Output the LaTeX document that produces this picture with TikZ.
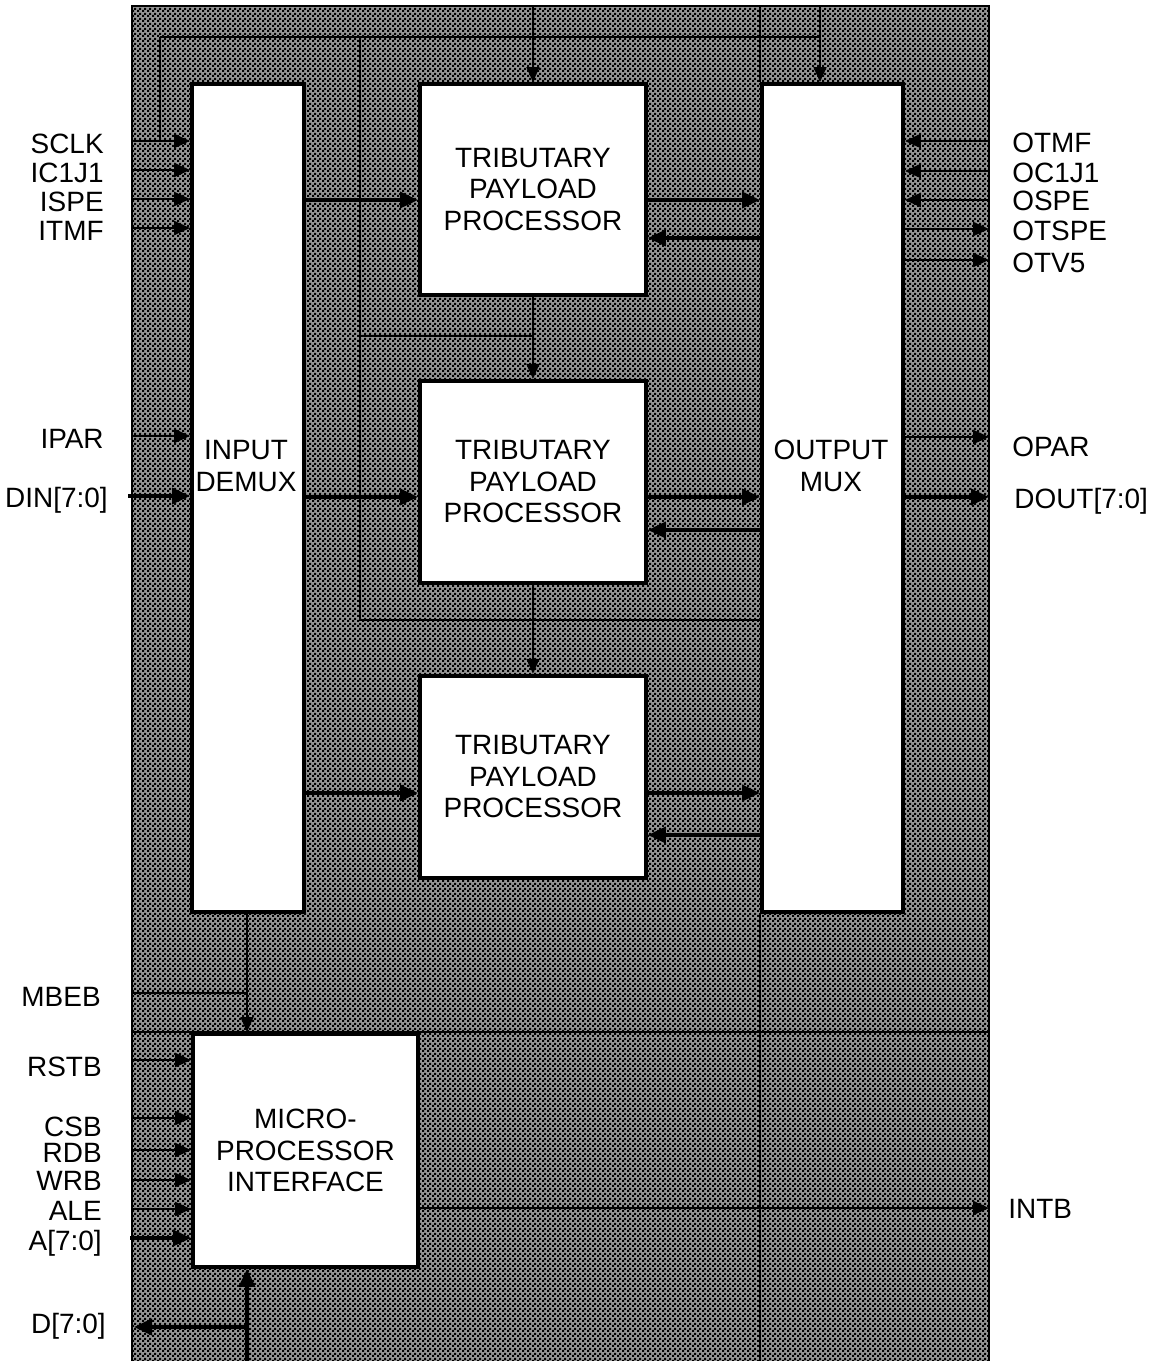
\documentclass[tikz,border=0pt]{standalone}
\usepackage{fontspec}
\setmainfont{Liberation Sans}
\usepackage{tikz}
\usetikzlibrary{arrows.meta,positioning,patterns}
\pgfdeclarepatternformonly{dither}{\pgfqpoint{0pt}{0pt}}{\pgfqpoint{2.6pt}{2.6pt}}{\pgfqpoint{2.6pt}{2.6pt}}{%
  \pgfpathrectangle{\pgfqpoint{0pt}{0pt}}{\pgfqpoint{1.3pt}{1.3pt}}%
  \pgfpathrectangle{\pgfqpoint{1.3pt}{1.3pt}}{\pgfqpoint{1.3pt}{1.3pt}}%
  \pgfusepath{fill}}

\begin{document}
\begin{tikzpicture}[
  x=0.2mm, y=-0.2mm,
  font=\fontsize{15.9}{17.9}\selectfont,
  blk/.style={draw,line width=2.2pt,fill=white,align=center,inner sep=0pt},
  txt/.style={align=center,inner sep=0pt},
  pinl/.style={anchor=east,inner sep=0pt,text height=11.4pt,text depth=0pt},
  pinr/.style={anchor=west,inner sep=0pt,text height=11.4pt,text depth=0pt},
  bus/.style={line width=2pt,-{Triangle[length=3.6mm,width=3.2mm]}},
  sig/.style={line width=1.3pt,-{Triangle[length=3.2mm,width=2.8mm]}},
  ctl/.style={line width=0.9pt},
  ctla/.style={ctl,-{Triangle[length=3mm,width=2.6mm]}}
]
\useasboundingbox (0,0) rectangle (1156,1361);
% chip outline
\coordinate (frameNW) at (132,6);
\coordinate (frameSE) at (989,1368);
\path[fill=black!42] (frameNW) rectangle (frameSE);
\path[pattern=dither] (frameNW) rectangle (frameSE);
\draw[line width=1pt] (frameNW |- frameSE) -- (frameNW) -- (frameSE |- frameNW) -- (frameSE);

% blocks
\node[blk,minimum width=22.4mm,minimum height=165.6mm,anchor=north west] (demux) at (190,82) {};
\node[blk,minimum width=45.2mm,minimum height=42.2mm,anchor=north west] (tpp1) at (418,82) {TRIBUTARY\\PAYLOAD\\PROCESSOR};
\node[blk,minimum width=45.2mm,minimum height=40.4mm,below=16.4mm of tpp1] (tpp2) {TRIBUTARY\\PAYLOAD\\PROCESSOR};
\node[blk,minimum width=45.2mm,minimum height=40.4mm,below=17.8mm of tpp2] (tpp3) {TRIBUTARY\\PAYLOAD\\PROCESSOR};
\node[blk,minimum width=28.2mm,minimum height=165.6mm,anchor=north west] (omux) at (760,82) {};
\node[blk,minimum width=45mm,minimum height=46.6mm,anchor=north west] (mpi) at (191,1032) {MICRO-\\PROCESSOR\\INTERFACE};
\node[txt] (demuxtxt) at (246,466) {INPUT\\DEMUX};
\node[txt] (omuxtxt) at (831,466) {OUTPUT\\MUX};

% clock and control lines
\coordinate (ck0) at (160,37);
\coordinate (ck1) at (820,37);
\coordinate (cv) at (360,37);
\coordinate (cl1) at (360,336);
\coordinate (cl2) at (360,620);
\coordinate (pSCLK) at (132,141);
\draw[ctl] (ck0) -- (ck1);
\draw[ctl] (ck0) -- (ck0 |- pSCLK);
\draw[ctl] (cv) -- (cl2) -- (cl2 -| omux.west);
\draw[ctl] (cl1) -- (cl1 -| tpp1.south);
\draw[ctla] (tpp1.north |- frameNW) -- (tpp1.north);
\draw[ctla] (ck1 |- frameNW) -- (ck1 |- omux.north);
\draw[ctl] (omux.west |- frameNW) -- (omux.north west);
\draw[ctl] (omux.south west) -- (omux.west |- frameSE);
\draw[ctla] (tpp1.south) -- (tpp2.north);
\draw[ctla] (tpp2.south) -- (tpp3.north);
\draw[ctl] (frameNW |- mpi.north) -- (frameSE |- mpi.north);

% input pins
\foreach \nm/\y/\ly in {SCLK/141/143,IC1J1/170/172,ISPE/199/201,ITMF/228/230,IPAR/436/438}{
  \coordinate (p\nm) at (132,\y);
  \node[pinl] (l\nm) at (104,\ly) {\nm};
  \draw[sig] (p\nm) -- (p\nm -| demux.west);
}
\coordinate (pDIN) at (128,496);
\node[pinl] (lDIN) at (108,497) {DIN[7:0]};
\draw[bus] (pDIN) -- (pDIN -| demux.west);

% output mux pins
\foreach \nm/\y/\ly in {OTMF/141/142,OC1J1/171/172,OSPE/200/200}{
  \coordinate (p\nm) at (989,\y);
  \node[pinr] (l\nm) at (1012,\ly) {\nm};
  \draw[sig] (p\nm) -- (p\nm -| omux.east);
}
\foreach \nm/\y/\ly in {OTSPE/229/230,OTV5/260/262,OPAR/437/446}{
  \coordinate (p\nm) at (989,\y);
  \node[pinr] (l\nm) at (1012,\ly) {\nm};
  \draw[sig] (p\nm -| omux.east) -- (p\nm);
}
\coordinate (pDOUT) at (989,497);
\node[pinr] (lDOUT) at (1014,498) {DOUT[7:0]};
\draw[bus] (pDOUT -| omux.east) -- (pDOUT);

% payload paths
\foreach \t/\a/\b in {tpp1/200/238,tpp2/497/530,tpp3/793/835}{
  \coordinate (\t i) at (0,\a);
  \coordinate (\t o) at (0,\b);
  \draw[bus] (demux.east |- \t i) -- (\t.west |- \t i);
  \draw[bus] (\t.east |- \t i) -- (omux.west |- \t i);
  \draw[bus] (omux.west |- \t o) -- (\t.east |- \t o);
}

% microprocessor pins
\coordinate (pMBEB) at (132,993);
\coordinate (mb) at (247,993);
\node[pinl] (lMBEB) at (101,996) {MBEB};
\draw[ctl] (pMBEB) -- (mb);
\draw[ctla] (mb |- demux.south) -- (mb |- mpi.north);
\foreach \nm/\y/\ly in {RSTB/1060/1066,CSB/1118/1126,RDB/1150/1152,WRB/1180/1180,ALE/1209/1210}{
  \coordinate (p\nm) at (132,\y);
  \node[pinl] (l\nm) at (102,\ly) {\nm};
  \draw[sig] (p\nm) -- (p\nm -| mpi.west);
}
\coordinate (pA) at (130,1238);
\node[pinl] (lA) at (102,1240) {A[7:0]};
\draw[bus] (pA) -- (pA -| mpi.west);
\coordinate (dbus) at (247,1327);
\coordinate (pD) at (134,1327);
\node[pinl] (lD) at (106,1323) {D[7:0]};
\draw[bus] (dbus |- frameSE) -- (dbus |- mpi.south);
\draw[bus] (dbus) -- (pD);
\coordinate (pINTB) at (989,1208);
\node[pinr] (lINTB) at (1008,1208) {INTB};
\draw[sig] (pINTB -| mpi.east) -- (pINTB);
\end{tikzpicture}
\end{document}
